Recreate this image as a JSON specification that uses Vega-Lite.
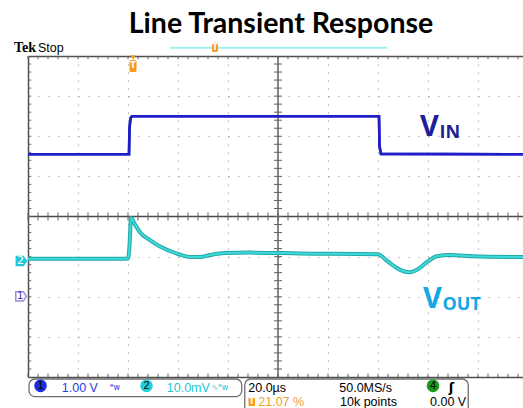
{
  "$schema": "https://vega.github.io/schema/vega-lite/v6.json",
  "width": 495,
  "height": 321,
  "autosize": "none",
  "padding": {"left": 28, "top": 56, "right": 0, "bottom": 31},
  "background": "white",
  "config": {
    "view": {"stroke": null},
    "axis": {"labels": false, "ticks": false, "domain": false, "grid": false, "title": null}
  },
  "datasets": {
    "vin": [
      {"t": 0, "v": 3.55}, {"t": 40.4, "v": 3.55}, {"t": 40.6, "v": 4.2}, {"t": 41.0, "v": 4.45},
      {"t": 41.6, "v": 4.5}, {"t": 140.4, "v": 4.5}, {"t": 140.6, "v": 3.75}, {"t": 141.2, "v": 3.56},
      {"t": 198, "v": 3.55}
    ],
    "vout": [
      {"t": 0, "mv": 0.5}, {"t": 40, "mv": 0.5}, {"t": 40.6, "mv": 3.75}, {"t": 41.2, "mv": 10.6},
      {"t": 42.8, "mv": 9.0}, {"t": 44.8, "mv": 7.1}, {"t": 48.8, "mv": 5.1}, {"t": 52.8, "mv": 3.5},
      {"t": 56.8, "mv": 2.4}, {"t": 60.8, "mv": 1.5}, {"t": 64.8, "mv": 0.9}, {"t": 68.8, "mv": 0.9},
      {"t": 72.8, "mv": 1.4}, {"t": 78.8, "mv": 1.9}, {"t": 88.8, "mv": 2.0}, {"t": 108.8, "mv": 1.8},
      {"t": 140, "mv": 1.6}, {"t": 143.5, "mv": 0}, {"t": 146.1, "mv": -1.25}, {"t": 148.8, "mv": -2.3},
      {"t": 152.8, "mv": -2.9}, {"t": 156.1, "mv": -2.1}, {"t": 159.5, "mv": -0.4}, {"t": 163.5, "mv": 1.1},
      {"t": 168.8, "mv": 1.4}, {"t": 178.1, "mv": 1.1}, {"t": 198, "mv": 0.9}
    ],
    "xminor": [
      {"t": 0}, {"t": 4}, {"t": 8}, {"t": 12}, {"t": 16}, {"t": 20}, {"t": 24}, {"t": 28}, {"t": 32}, {"t": 36},
      {"t": 40}, {"t": 44}, {"t": 48}, {"t": 52}, {"t": 56}, {"t": 60}, {"t": 64}, {"t": 68}, {"t": 72}, {"t": 76},
      {"t": 80}, {"t": 84}, {"t": 88}, {"t": 92}, {"t": 96}, {"t": 100}, {"t": 104}, {"t": 108}, {"t": 112}, {"t": 116},
      {"t": 120}, {"t": 124}, {"t": 128}, {"t": 132}, {"t": 136}, {"t": 140}, {"t": 144}, {"t": 148}, {"t": 152}, {"t": 156},
      {"t": 160}, {"t": 164}, {"t": 168}, {"t": 172}, {"t": 176}, {"t": 180}, {"t": 184}, {"t": 188}, {"t": 192}, {"t": 196}
    ],
    "yminor": [
      {"d": -3.8}, {"d": -3.6}, {"d": -3.4}, {"d": -3.2}, {"d": -3.0}, {"d": -2.8}, {"d": -2.6}, {"d": -2.4}, {"d": -2.2}, {"d": -2.0},
      {"d": -1.8}, {"d": -1.6}, {"d": -1.4}, {"d": -1.2}, {"d": -1.0}, {"d": -0.8}, {"d": -0.6}, {"d": -0.4}, {"d": -0.2}, {"d": 0},
      {"d": 0.2}, {"d": 0.4}, {"d": 0.6}, {"d": 0.8}, {"d": 1.0}, {"d": 1.2}, {"d": 1.4}, {"d": 1.6}, {"d": 1.8}, {"d": 2.0},
      {"d": 2.2}, {"d": 2.4}, {"d": 2.6}, {"d": 2.8}, {"d": 3.0}, {"d": 3.2}, {"d": 3.4}, {"d": 3.6}, {"d": 3.8}
    ]
  },
  "resolve": {"scale": {"y": "independent"}, "axis": {"x": "independent", "y": "independent"}},
  "layer": [
    {
      "data": {"name": "vin"},
      "mark": {"type": "line", "color": "#1f1fc8", "strokeWidth": 2.6, "interpolate": "linear"},
      "encoding": {
        "x": {"field": "t", "type": "quantitative", "scale": {"domain": [0, 198], "nice": false, "zero": false},
          "axis": {"orient": "bottom", "domain": true, "domainColor": "#505050", "domainWidth": 1.5,
            "grid": true, "gridColor": "#8c8c8c", "gridDash": [1, 7], "gridWidth": 1,
            "values": [20, 40, 60, 80, 120, 140, 160, 180]}},
        "y": {"field": "v", "type": "quantitative", "scale": {"domain": [-2, 6], "nice": false, "zero": false},
          "axis": {"orient": "left", "domain": true, "domainColor": "#505050", "domainWidth": 1.5,
            "grid": true, "gridColor": "#8c8c8c", "gridDash": [1, 9], "gridWidth": 1,
            "values": [-1, 0, 1, 3, 4, 5]}}
      }
    },
    {
      "data": {"values": [{}]},
      "mark": {"type": "rule", "color": "#4a4a4a", "strokeWidth": 1.3},
      "encoding": {
        "x": {"datum": 100, "type": "quantitative", "scale": {"domain": [0, 198], "nice": false, "zero": false}, "axis": null},
        "y": {"datum": -4, "type": "quantitative", "scale": {"domain": [-4, 4], "nice": false, "zero": false}, "axis": null},
        "y2": {"datum": 4}
      }
    },
    {
      "data": {"values": [{}]},
      "mark": {"type": "rule", "color": "#4a4a4a", "strokeWidth": 1.3},
      "encoding": {
        "x": {"datum": 0, "type": "quantitative", "scale": {"domain": [0, 198], "nice": false, "zero": false}, "axis": null},
        "x2": {"datum": 198},
        "y": {"datum": 0, "type": "quantitative", "scale": {"domain": [-4, 4], "nice": false, "zero": false}, "axis": null}
      }
    },
    {
      "data": {"name": "xminor"},
      "mark": {"type": "rule", "color": "#606060", "strokeWidth": 1},
      "encoding": {
        "x": {"field": "t", "type": "quantitative", "scale": {"domain": [0, 198], "nice": false, "zero": false}, "axis": null},
        "y": {"datum": -4, "type": "quantitative", "scale": {"domain": [-4, 4], "nice": false, "zero": false}, "axis": null},
        "y2": {"datum": -3.92}
      }
    },
    {
      "data": {"name": "xminor"},
      "mark": {"type": "rule", "color": "#606060", "strokeWidth": 1},
      "encoding": {
        "x": {"field": "t", "type": "quantitative", "scale": {"domain": [0, 198], "nice": false, "zero": false}, "axis": null},
        "y": {"datum": 4, "type": "quantitative", "scale": {"domain": [-4, 4], "nice": false, "zero": false}, "axis": null},
        "y2": {"datum": 3.92}
      }
    },
    {
      "data": {"name": "xminor"},
      "mark": {"type": "rule", "color": "#606060", "strokeWidth": 1},
      "encoding": {
        "x": {"field": "t", "type": "quantitative", "scale": {"domain": [0, 198], "nice": false, "zero": false}, "axis": null},
        "y": {"datum": -0.1, "type": "quantitative", "scale": {"domain": [-4, 4], "nice": false, "zero": false}, "axis": null},
        "y2": {"datum": 0.1}
      }
    },
    {
      "data": {"name": "yminor"},
      "mark": {"type": "rule", "color": "#606060", "strokeWidth": 1},
      "encoding": {
        "x": {"datum": 0, "type": "quantitative", "scale": {"domain": [0, 198], "nice": false, "zero": false}, "axis": null},
        "x2": {"datum": 1.3},
        "y": {"field": "d", "type": "quantitative", "scale": {"domain": [-4, 4], "nice": false, "zero": false}, "axis": null}
      }
    },
    {
      "data": {"name": "yminor"},
      "mark": {"type": "rule", "color": "#606060", "strokeWidth": 1},
      "encoding": {
        "x": {"datum": 98.4, "type": "quantitative", "scale": {"domain": [0, 198], "nice": false, "zero": false}, "axis": null},
        "x2": {"datum": 101.6},
        "y": {"field": "d", "type": "quantitative", "scale": {"domain": [-4, 4], "nice": false, "zero": false}, "axis": null}
      }
    },
    {
      "data": {"name": "vin"},
      "mark": {"type": "line", "color": "#1f1fc8", "strokeWidth": 2.6},
      "encoding": {
        "x": {"field": "t", "type": "quantitative", "scale": {"domain": [0, 198], "nice": false, "zero": false}, "axis": null},
        "y": {"field": "v", "type": "quantitative", "scale": {"domain": [-2, 6], "nice": false, "zero": false}, "axis": null}
      }
    },
    {
      "data": {"name": "vout"},
      "mark": {"type": "line", "color": "#22a8a8", "strokeWidth": 4, "interpolate": "monotone"},
      "encoding": {
        "x": {"field": "t", "type": "quantitative", "scale": {"domain": [0, 198], "nice": false, "zero": false},
          "axis": {"orient": "top", "domain": true, "domainColor": "#505050", "domainWidth": 1.5}},
        "y": {"field": "mv", "type": "quantitative", "scale": {"domain": [-29, 51], "nice": false, "zero": false}, "axis": null}
      }
    },
    {
      "data": {"name": "vout"},
      "mark": {"type": "line", "color": "#3fd8d8", "strokeWidth": 2, "interpolate": "monotone"},
      "encoding": {
        "x": {"field": "t", "type": "quantitative", "scale": {"domain": [0, 198], "nice": false, "zero": false}, "axis": null},
        "y": {"field": "mv", "type": "quantitative", "scale": {"domain": [-29, 51], "nice": false, "zero": false}, "axis": null}
      }
    },
    {
      "data": {"values": [{"label": "Line Transient Response", "t": 101.2, "d": 4.573}]},
      "mark": {"type": "text", "align": "center", "baseline": "alphabetic", "font": "Lato", "fontWeight": "bold", "fontSize": 28.5, "color": "#000000"},
      "encoding": {
        "x": {"field": "t", "type": "quantitative", "scale": {"domain": [0, 198], "nice": false, "zero": false}, "axis": null},
        "y": {"field": "d", "type": "quantitative", "scale": {"domain": [-4, 4], "nice": false, "zero": false}, "axis": null},
        "text": {"field": "label"}
      }
    },
    {
      "data": {"values": [{"label": "V", "t": 156.8, "d": 2.0}]},
      "mark": {"type": "text", "align": "left", "baseline": "alphabetic", "font": "Open Sans", "fontWeight": "bold", "fontSize": 29, "color": "#1e1e96"},
      "encoding": {
        "x": {"field": "t", "type": "quantitative", "scale": {"domain": [0, 198], "nice": false, "zero": false}, "axis": null},
        "y": {"field": "d", "type": "quantitative", "scale": {"domain": [-4, 4], "nice": false, "zero": false}, "axis": null},
        "text": {"field": "label"}
      }
    },
    {
      "data": {"values": [{"label": "IN", "t": 164.6, "d": 1.95}]},
      "mark": {"type": "text", "align": "left", "baseline": "alphabetic", "font": "Open Sans", "fontWeight": "bold", "fontSize": 18, "color": "#1e1e96"},
      "encoding": {
        "x": {"field": "t", "type": "quantitative", "scale": {"domain": [0, 198], "nice": false, "zero": false}, "axis": null},
        "y": {"field": "d", "type": "quantitative", "scale": {"domain": [-4, 4], "nice": false, "zero": false}, "axis": null},
        "text": {"field": "label"}
      }
    },
    {
      "data": {"values": [{"label": "V", "t": 158, "d": -2.28}]},
      "mark": {"type": "text", "align": "left", "baseline": "alphabetic", "font": "Open Sans", "fontWeight": "bold", "fontSize": 29, "color": "#16a6e6"},
      "encoding": {
        "x": {"field": "t", "type": "quantitative", "scale": {"domain": [0, 198], "nice": false, "zero": false}, "axis": null},
        "y": {"field": "d", "type": "quantitative", "scale": {"domain": [-4, 4], "nice": false, "zero": false}, "axis": null},
        "text": {"field": "label"}
      }
    },
    {
      "data": {"values": [{"label": "OUT", "t": 165.8, "d": -2.33}]},
      "mark": {"type": "text", "align": "left", "baseline": "alphabetic", "font": "Open Sans", "fontWeight": "bold", "fontSize": 18, "color": "#16a6e6"},
      "encoding": {
        "x": {"field": "t", "type": "quantitative", "scale": {"domain": [0, 198], "nice": false, "zero": false}, "axis": null},
        "y": {"field": "d", "type": "quantitative", "scale": {"domain": [-4, 4], "nice": false, "zero": false}, "axis": null},
        "text": {"field": "label"}
      }
    },
    {
      "data": {"values": [{"t": 56.8, "t2": 143.6, "d": 4.207}]},
      "mark": {"type": "rule", "color": "#a0f0f0", "strokeWidth": 2},
      "encoding": {
        "x": {"field": "t", "type": "quantitative", "scale": {"domain": [0, 198], "nice": false, "zero": false}, "axis": null},
        "x2": {"field": "t2"},
        "y": {"field": "d", "type": "quantitative", "scale": {"domain": [-4, 4], "nice": false, "zero": false}, "axis": null}
      }
    },
    {
      "data": {"values": [{"label": "Tek", "t": -5.6, "d": 4.1}]},
      "mark": {"type": "text", "align": "left", "baseline": "alphabetic", "font": "Liberation Serif", "fontWeight": "bold", "fontSize": 14, "color": "#000000", "letterSpacing": -0.8},
      "encoding": {
        "x": {"field": "t", "type": "quantitative", "scale": {"domain": [0, 198], "nice": false, "zero": false}, "axis": null},
        "y": {"field": "d", "type": "quantitative", "scale": {"domain": [-4, 4], "nice": false, "zero": false}, "axis": null},
        "text": {"field": "label"}
      }
    },
    {
      "data": {"values": [{"label": "Stop", "t": 4, "d": 4.1}]},
      "mark": {"type": "text", "align": "left", "baseline": "alphabetic", "font": "Liberation Sans", "fontSize": 12.5, "color": "#000000"},
      "encoding": {
        "x": {"field": "t", "type": "quantitative", "scale": {"domain": [0, 198], "nice": false, "zero": false}, "axis": null},
        "y": {"field": "d", "type": "quantitative", "scale": {"domain": [-4, 4], "nice": false, "zero": false}, "axis": null},
        "text": {"field": "label"}
      }
    },
    {
      "data": {"values": [{"t": 42, "d": 3.96}]},
      "mark": {"type": "point", "shape": "triangle-down", "filled": true, "color": "#f59c1a", "size": 30, "opacity": 1},
      "encoding": {
        "x": {"field": "t", "type": "quantitative", "scale": {"domain": [0, 198], "nice": false, "zero": false}, "axis": null},
        "y": {"field": "d", "type": "quantitative", "scale": {"domain": [-4, 4], "nice": false, "zero": false}, "axis": null}
      }
    },
    {
      "data": {"values": [{"t": 40.6, "t2": 43.4, "d": 3.9, "d2": 3.6}, {"t": 73.6, "t2": 76.0, "d": 4.33, "d2": 4.1}]},
      "mark": {"type": "rect", "color": "#f59c1a", "cornerRadius": 1.5},
      "encoding": {
        "x": {"field": "t", "type": "quantitative", "scale": {"domain": [0, 198], "nice": false, "zero": false}, "axis": null},
        "x2": {"field": "t2"},
        "y": {"field": "d", "type": "quantitative", "scale": {"domain": [-4, 4], "nice": false, "zero": false}, "axis": null},
        "y2": {"field": "d2"}
      }
    },
    {
      "data": {"values": [{"label": "T", "t": 42, "d": 3.75}, {"label": "T", "t": 74.8, "d": 4.2}]},
      "mark": {"type": "text", "align": "center", "baseline": "middle", "font": "DejaVu Sans", "fontWeight": "bold", "fontSize": 8, "color": "#ffffff"},
      "encoding": {
        "x": {"field": "t", "type": "quantitative", "scale": {"domain": [0, 198], "nice": false, "zero": false}, "axis": null},
        "y": {"field": "d", "type": "quantitative", "scale": {"domain": [-4, 4], "nice": false, "zero": false}, "axis": null},
        "text": {"field": "label"}
      }
    },
    {
      "data": {"values": [{"t": -2.6, "d": -1.11}]},
      "mark": {"type": "point", "shape": "M -1 -0.9 L 0.35 -0.9 L 1 0 L 0.35 0.9 L -1 0.9 Z", "filled": true, "color": "#22c8d8", "size": 140, "opacity": 1},
      "encoding": {
        "x": {"field": "t", "type": "quantitative", "scale": {"domain": [0, 198], "nice": false, "zero": false}, "axis": null},
        "y": {"field": "d", "type": "quantitative", "scale": {"domain": [-4, 4], "nice": false, "zero": false}, "axis": null}
      }
    },
    {
      "data": {"values": [{"t": -2.8, "d": -1.99}]},
      "mark": {"type": "point", "shape": "M -1 -0.9 L 0.45 -0.9 L 1 0 L 0.45 0.9 L -1 0.9 Z", "filled": true, "fill": "#ffffff", "stroke": "#9a8fd8", "strokeWidth": 1.5, "size": 110, "opacity": 1},
      "encoding": {
        "x": {"field": "t", "type": "quantitative", "scale": {"domain": [0, 198], "nice": false, "zero": false}, "axis": null},
        "y": {"field": "d", "type": "quantitative", "scale": {"domain": [-4, 4], "nice": false, "zero": false}, "axis": null}
      }
    },
    {
      "data": {"values": [{"label": "2", "t": -3.0, "d": -1.11}]},
      "mark": {"type": "text", "align": "center", "baseline": "middle", "font": "DejaVu Sans", "fontSize": 11, "color": "#ffffff"},
      "encoding": {
        "x": {"field": "t", "type": "quantitative", "scale": {"domain": [0, 198], "nice": false, "zero": false}, "axis": null},
        "y": {"field": "d", "type": "quantitative", "scale": {"domain": [-4, 4], "nice": false, "zero": false}, "axis": null},
        "text": {"field": "label"}
      }
    },
    {
      "data": {"values": [{"label": "1", "t": -3.1, "d": -1.99}]},
      "mark": {"type": "text", "align": "center", "baseline": "middle", "font": "DejaVu Sans", "fontSize": 10, "color": "#3030d0"},
      "encoding": {
        "x": {"field": "t", "type": "quantitative", "scale": {"domain": [0, 198], "nice": false, "zero": false}, "axis": null},
        "y": {"field": "d", "type": "quantitative", "scale": {"domain": [-4, 4], "nice": false, "zero": false}, "axis": null},
        "text": {"field": "label"}
      }
    },
    {
      "data": {"values": [{"t": 0.4, "t2": 85.5, "d": -4.05, "d2": -4.49}, {"t": 86.7, "t2": 176.1, "d": -4.05, "d2": -5.0}]},
      "mark": {"type": "rect", "fill": "#ffffff", "stroke": "#6e6e6e", "strokeWidth": 1.3, "cornerRadius": 6},
      "encoding": {
        "x": {"field": "t", "type": "quantitative", "scale": {"domain": [0, 198], "nice": false, "zero": false}, "axis": null},
        "x2": {"field": "t2"},
        "y": {"field": "d", "type": "quantitative", "scale": {"domain": [-4, 4], "nice": false, "zero": false}, "axis": null},
        "y2": {"field": "d2"}
      }
    },
    {
      "data": {"values": [{"ch": "1", "t": 5, "d": -4.22}]},
      "mark": {"type": "point", "shape": "circle", "filled": true, "color": "#1a2ee0", "size": 160, "opacity": 1},
      "encoding": {
        "x": {"field": "t", "type": "quantitative", "scale": {"domain": [0, 198], "nice": false, "zero": false}, "axis": null},
        "y": {"field": "d", "type": "quantitative", "scale": {"domain": [-4, 4], "nice": false, "zero": false}, "axis": null}
      }
    },
    {
      "data": {"values": [{"ch": "2", "t": 47.4, "d": -4.22}]},
      "mark": {"type": "point", "shape": "circle", "filled": true, "color": "#22d0dc", "size": 160, "opacity": 1},
      "encoding": {
        "x": {"field": "t", "type": "quantitative", "scale": {"domain": [0, 198], "nice": false, "zero": false}, "axis": null},
        "y": {"field": "d", "type": "quantitative", "scale": {"domain": [-4, 4], "nice": false, "zero": false}, "axis": null}
      }
    },
    {
      "data": {"values": [{"ch": "4", "t": 162, "d": -4.22}]},
      "mark": {"type": "point", "shape": "circle", "filled": true, "color": "#1a9a1a", "size": 160, "opacity": 1},
      "encoding": {
        "x": {"field": "t", "type": "quantitative", "scale": {"domain": [0, 198], "nice": false, "zero": false}, "axis": null},
        "y": {"field": "d", "type": "quantitative", "scale": {"domain": [-4, 4], "nice": false, "zero": false}, "axis": null}
      }
    },
    {
      "data": {"values": [{"label": "1", "t": 5, "d": -4.22}, {"label": "2", "t": 47.4, "d": -4.22}, {"label": "4", "t": 162, "d": -4.22}]},
      "mark": {"type": "text", "align": "center", "baseline": "middle", "font": "Liberation Sans", "fontSize": 11, "color": "#000000"},
      "encoding": {
        "x": {"field": "t", "type": "quantitative", "scale": {"domain": [0, 198], "nice": false, "zero": false}, "axis": null},
        "y": {"field": "d", "type": "quantitative", "scale": {"domain": [-4, 4], "nice": false, "zero": false}, "axis": null},
        "text": {"field": "label"}
      }
    },
    {
      "data": {"values": [{"label": "1.00 V", "t": 13.5, "d": -4.366}]},
      "mark": {"type": "text", "align": "left", "baseline": "alphabetic", "font": "Liberation Sans", "fontSize": 12.5, "color": "#2a3ae6"},
      "encoding": {
        "x": {"field": "t", "type": "quantitative", "scale": {"domain": [0, 198], "nice": false, "zero": false}, "axis": null},
        "y": {"field": "d", "type": "quantitative", "scale": {"domain": [-4, 4], "nice": false, "zero": false}, "axis": null},
        "text": {"field": "label"}
      }
    },
    {
      "data": {"values": [{"label": "ᴮw", "t": 32.8, "d": -4.33}]},
      "mark": {"type": "text", "align": "left", "baseline": "alphabetic", "font": "DejaVu Sans", "fontSize": 8, "color": "#2a3ae6"},
      "encoding": {
        "x": {"field": "t", "type": "quantitative", "scale": {"domain": [0, 198], "nice": false, "zero": false}, "axis": null},
        "y": {"field": "d", "type": "quantitative", "scale": {"domain": [-4, 4], "nice": false, "zero": false}, "axis": null},
        "text": {"field": "label"}
      }
    },
    {
      "data": {"values": [{"label": "10.0mV", "t": 55.5, "d": -4.366}]},
      "mark": {"type": "text", "align": "left", "baseline": "alphabetic", "font": "Liberation Sans", "fontSize": 12.5, "color": "#22c8d8"},
      "encoding": {
        "x": {"field": "t", "type": "quantitative", "scale": {"domain": [0, 198], "nice": false, "zero": false}, "axis": null},
        "y": {"field": "d", "type": "quantitative", "scale": {"domain": [-4, 4], "nice": false, "zero": false}, "axis": null},
        "text": {"field": "label"}
      }
    },
    {
      "data": {"values": [{"label": "∿ᴮw", "t": 73.4, "d": -4.33}]},
      "mark": {"type": "text", "align": "left", "baseline": "alphabetic", "font": "DejaVu Sans", "fontSize": 8, "color": "#22c8d8"},
      "encoding": {
        "x": {"field": "t", "type": "quantitative", "scale": {"domain": [0, 198], "nice": false, "zero": false}, "axis": null},
        "y": {"field": "d", "type": "quantitative", "scale": {"domain": [-4, 4], "nice": false, "zero": false}, "axis": null},
        "text": {"field": "label"}
      }
    },
    {
      "data": {"values": [
        {"label": "20.0µs", "t": 88.1, "d": -4.366},
        {"label": "50.0MS/s", "t": 124.5, "d": -4.366},
        {"label": "10k points", "t": 124.8, "d": -4.723},
        {"label": "0.00 V", "t": 160.8, "d": -4.723}
      ]},
      "mark": {"type": "text", "align": "left", "baseline": "alphabetic", "font": "Liberation Sans", "fontSize": 12.5, "color": "#000000"},
      "encoding": {
        "x": {"field": "t", "type": "quantitative", "scale": {"domain": [0, 198], "nice": false, "zero": false}, "axis": null},
        "y": {"field": "d", "type": "quantitative", "scale": {"domain": [-4, 4], "nice": false, "zero": false}, "axis": null},
        "text": {"field": "label"}
      }
    },
    {
      "data": {"values": [{"label": "ʃ", "t": 169.4, "d": -4.366}]},
      "mark": {"type": "text", "align": "center", "baseline": "alphabetic", "font": "DejaVu Sans", "fontWeight": "bold", "fontSize": 13, "color": "#000000"},
      "encoding": {
        "x": {"field": "t", "type": "quantitative", "scale": {"domain": [0, 198], "nice": false, "zero": false}, "axis": null},
        "y": {"field": "d", "type": "quantitative", "scale": {"domain": [-4, 4], "nice": false, "zero": false}, "axis": null},
        "text": {"field": "label"}
      }
    },
    {
      "data": {"values": [{"t": 88.2, "t2": 90.8, "d": -4.51, "d2": -4.72}]},
      "mark": {"type": "rect", "color": "#f59c1a", "cornerRadius": 1},
      "encoding": {
        "x": {"field": "t", "type": "quantitative", "scale": {"domain": [0, 198], "nice": false, "zero": false}, "axis": null},
        "x2": {"field": "t2"},
        "y": {"field": "d", "type": "quantitative", "scale": {"domain": [-4, 4], "nice": false, "zero": false}, "axis": null},
        "y2": {"field": "d2"}
      }
    },
    {
      "data": {"values": [{"label": "T", "t": 89.5, "d": -4.615}]},
      "mark": {"type": "text", "align": "center", "baseline": "middle", "font": "DejaVu Sans", "fontWeight": "bold", "fontSize": 8, "color": "#ffffff"},
      "encoding": {
        "x": {"field": "t", "type": "quantitative", "scale": {"domain": [0, 198], "nice": false, "zero": false}, "axis": null},
        "y": {"field": "d", "type": "quantitative", "scale": {"domain": [-4, 4], "nice": false, "zero": false}, "axis": null},
        "text": {"field": "label"}
      }
    },
    {
      "data": {"values": [{"label": "21.07 %", "t": 92.1, "d": -4.723}]},
      "mark": {"type": "text", "align": "left", "baseline": "alphabetic", "font": "Liberation Sans", "fontSize": 12.5, "color": "#f0a030"},
      "encoding": {
        "x": {"field": "t", "type": "quantitative", "scale": {"domain": [0, 198], "nice": false, "zero": false}, "axis": null},
        "y": {"field": "d", "type": "quantitative", "scale": {"domain": [-4, 4], "nice": false, "zero": false}, "axis": null},
        "text": {"field": "label"}
      }
    }
  ]
}
